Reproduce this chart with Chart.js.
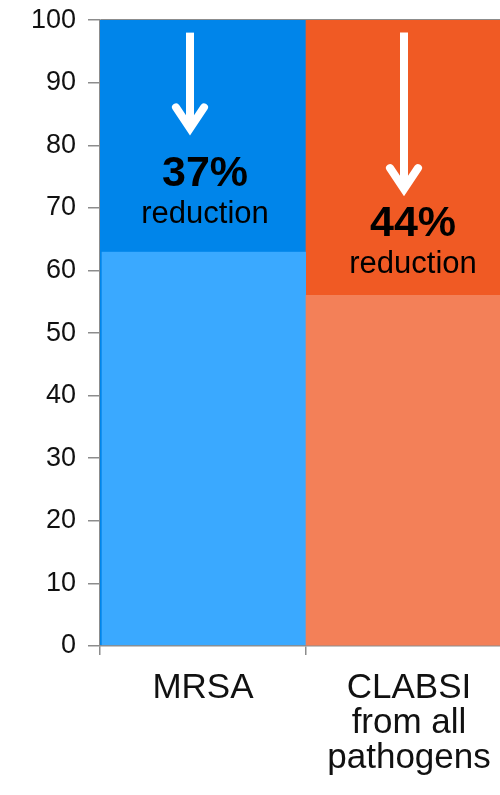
<!DOCTYPE html>
<html>
<head>
<meta charset="utf-8">
<script src="https://cdn.jsdelivr.net/npm/chart.js@4"></script>
<style>
    html, body { margin: 0; padding: 0; background: #fff; overflow: hidden; }
    #wrap { width: 500px; height: 795px; overflow: hidden; }
</style>
</head>
<body>
<div id="wrap"><canvas id="chart" width="512" height="795"></canvas></div>
<script>
const categories = ["MRSA", ["CLABSI", "from all", "pathogens"]];
const remaining = [63, 56];
const reduction = [37, 44];
const yTicks = [0, 10, 20, 30, 40, 50, 60, 70, 80, 90, 100];

const darkCols  = ["rgb(0, 133, 234)", "rgb(240, 90, 36)"];
const lightCols = ["rgb(58, 169, 255)", "rgb(243, 128, 88)"];
const axisGrey  = "#8c8c8c";
const font      = "'Liberation Sans', Arial, sans-serif";

// where the arrow and the "% reduction" text sit inside each bar (in axis units / px offsets)
const notes = [
    { arrowDx: -13, arrowTop: 98, arrowTip: 82.7, textDx: 2, pctAt: 75.4, wordAt: 69.0 },
    { arrowDx: -5,  arrowTop: 98, arrowTip: 73.0, textDx: 4, pctAt: 67.4, wordAt: 61.0 }
];

const reductionNotes =
{
    id: "reductionNotes",
    afterDatasetsDraw(chart)
    {
        const ctx = chart.ctx;
        const xs = chart.scales.x;
        const ys = chart.scales.y;

        for(let i = 0; i < reduction.length; i += 1)
        {
            const n = notes[i];
            const xc = xs.getPixelForValue(i);
            const ax = xc + n.arrowDx;
            const top = ys.getPixelForValue(n.arrowTop);
            const tip = ys.getPixelForValue(n.arrowTip);

            ctx.save();
            ctx.strokeStyle = "#fff";
            ctx.lineWidth = 8;

            // shaft
            ctx.lineCap = "butt";
            ctx.beginPath();
            ctx.moveTo(ax, top);
            ctx.lineTo(ax, tip - 4);
            ctx.stroke();

            // head
            ctx.lineCap = "round";
            ctx.lineJoin = "miter";
            ctx.beginPath();
            ctx.moveTo(ax - 14, tip - 21);
            ctx.lineTo(ax, tip);
            ctx.lineTo(ax + 14, tip - 21);
            ctx.stroke();

            ctx.fillStyle = "#000";
            ctx.textAlign = "center";
            ctx.textBaseline = "middle";
            ctx.font = "bold 43px " + font;
            ctx.fillText(reduction[i] + "%", xc + n.textDx, ys.getPixelForValue(n.pctAt));
            ctx.font = "31px " + font;
            ctx.fillText("reduction", xc + n.textDx, ys.getPixelForValue(n.wordAt));
            ctx.restore();
        }
    }
};

const chart = new Chart(document.getElementById("chart"),
{
    type: "bar",
    data:
    {
        labels: categories,
        datasets:
        [
            {
                label: "After",
                data: remaining,
                backgroundColor: lightCols,
                borderColor: darkCols,
                borderWidth: c => c.dataIndex === 0 ? { left: 2, top: 0, right: 0, bottom: 0 } : 0,
                borderSkipped: false,
                categoryPercentage: 1,
                barPercentage: 1
            },
            {
                label: "Reduction",
                data: reduction,
                backgroundColor: darkCols,
                borderWidth: 0,
                categoryPercentage: 1,
                barPercentage: 1
            }
        ]
    },
    options:
    {
        responsive: false,
        animation: false,
        devicePixelRatio: 1,
        layout: { padding: { top: 20, right: 0, bottom: 0, left: 0 } },
        plugins:
        {
            legend: { display: false },
            tooltip: { enabled: false }
        },
        scales:
        {
            x:
            {
                stacked: true,
                afterFit: s => { s.height = 149; },
                grid: { drawOnChartArea: false, tickLength: 9, tickColor: axisGrey, lineWidth: 1.5 },
                border: { color: axisGrey, width: 1.5 },
                ticks: { color: "#111", padding: 16, font: { family: font, size: 35, lineHeight: 1.0 } }
            },
            y:
            {
                stacked: true,
                min: 0,
                max: 100,
                z: 1,
                afterFit: s => { s.width = 100; },
                afterBuildTicks: s => { s.ticks = yTicks.map(v => ({ value: v })); },
                grid:
                {
                    color: c => c.tick && c.tick.value === 100 ? axisGrey : "transparent",
                    tickColor: axisGrey,
                    tickLength: 12,
                    lineWidth: 1.5
                },
                border: { color: axisGrey, width: 1.5 },
                ticks: { color: "#111", padding: 12, font: { family: font, size: 27, lineHeight: 0.6 } }
            }
        }
    },
    plugins: [reductionNotes]
});
</script>
</body>
</html>
